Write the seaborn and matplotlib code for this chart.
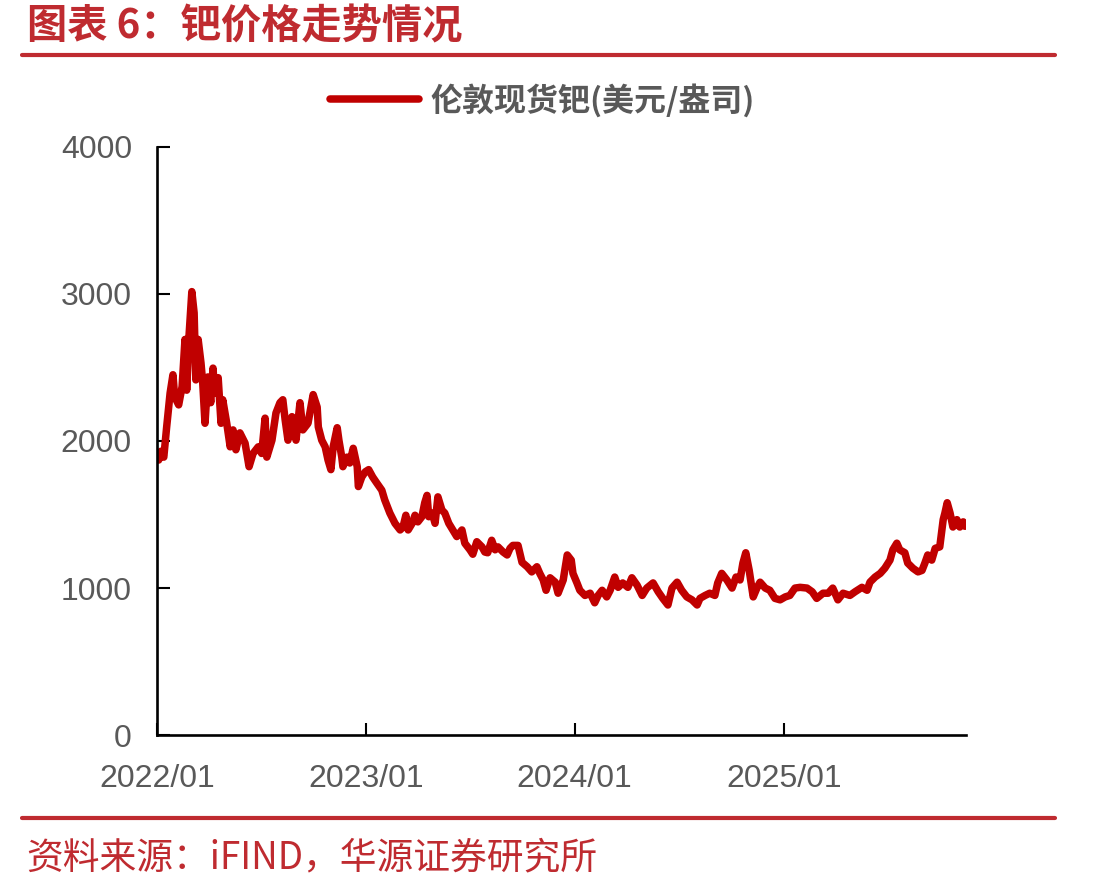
import pandas as pd
import seaborn as sns
import matplotlib.pyplot as plt
from matplotlib.lines import Line2D

# 伦敦现货钯 (美元/盎司)，读图估算
fechas = [
    '2022-01-04', '2022-01-08', '2022-01-13', '2022-01-18', '2022-01-24', '2022-01-29',
    '2022-02-01', '2022-02-08', '2022-02-14', '2022-02-19', '2022-02-22', '2022-02-26',
    '2022-03-03', '2022-03-07', '2022-03-10', '2022-03-14', '2022-03-19', '2022-03-22',
    '2022-03-26', '2022-03-31', '2022-04-05', '2022-04-09', '2022-04-12', '2022-04-18',
    '2022-04-23', '2022-04-26', '2022-05-03', '2022-05-09', '2022-05-14', '2022-05-19',
    '2022-05-26', '2022-06-04', '2022-06-11', '2022-06-18', '2022-06-27', '2022-07-03',
    '2022-07-09', '2022-07-12', '2022-07-21', '2022-07-28', '2022-08-04', '2022-08-09',
    '2022-08-13', '2022-08-18', '2022-08-25', '2022-09-01', '2022-09-08', '2022-09-13',
    '2022-09-22', '2022-10-01', '2022-10-08', '2022-10-10', '2022-10-16', '2022-10-22',
    '2022-10-27', '2022-11-01', '2022-11-05', '2022-11-12', '2022-11-15', '2022-11-20',
    '2022-11-22', '2022-11-29', '2022-12-04', '2022-12-10', '2022-12-17', '2022-12-19',
    '2022-12-25', '2022-12-31', '2023-01-06', '2023-01-13', '2023-01-20', '2023-01-29',
    '2023-02-03', '2023-02-12', '2023-02-21', '2023-03-02', '2023-03-07', '2023-03-12',
    '2023-03-16', '2023-03-23', '2023-03-28', '2023-04-02', '2023-04-09', '2023-04-14',
    '2023-04-18', '2023-04-21', '2023-04-27', '2023-05-02', '2023-05-07', '2023-05-14',
    '2023-05-19', '2023-05-26', '2023-06-02', '2023-06-09', '2023-06-18', '2023-06-23',
    '2023-07-02', '2023-07-07', '2023-07-14', '2023-07-23', '2023-07-28', '2023-08-02',
    '2023-08-09', '2023-08-15', '2023-08-20', '2023-08-29', '2023-09-05', '2023-09-10',
    '2023-09-15', '2023-09-24', '2023-10-01', '2023-10-10', '2023-10-18', '2023-10-27',
    '2023-11-01', '2023-11-07', '2023-11-12', '2023-11-19', '2023-11-28', '2023-12-03',
    '2023-12-12', '2023-12-19', '2023-12-26', '2023-12-29', '2024-01-05', '2024-01-10',
    '2024-01-19', '2024-01-28', '2024-02-05', '2024-02-11', '2024-02-18', '2024-02-26',
    '2024-03-03', '2024-03-11', '2024-03-17', '2024-03-25', '2024-04-03', '2024-04-10',
    '2024-04-19', '2024-04-28', '2024-05-06', '2024-05-17', '2024-05-26', '2024-06-03',
    '2024-06-12', '2024-06-19', '2024-06-28', '2024-07-06', '2024-07-15', '2024-07-24',
    '2024-08-02', '2024-08-07', '2024-08-16', '2024-08-24', '2024-09-02', '2024-09-07',
    '2024-09-14', '2024-09-23', '2024-10-02', '2024-10-09', '2024-10-16', '2024-10-21',
    '2024-10-26', '2024-11-01', '2024-11-08', '2024-11-15', '2024-11-20', '2024-11-29',
    '2024-12-07', '2024-12-16', '2024-12-25', '2025-01-03', '2025-01-11', '2025-01-20',
    '2025-01-29', '2025-02-10', '2025-02-19', '2025-02-27', '2025-03-10', '2025-03-19',
    '2025-03-27', '2025-04-05', '2025-04-14', '2025-04-26', '2025-05-05', '2025-05-17',
    '2025-05-26', '2025-05-31', '2025-06-09', '2025-06-18', '2025-06-26', '2025-07-05',
    '2025-07-10', '2025-07-17', '2025-07-22', '2025-07-31', '2025-08-05', '2025-08-14',
    '2025-08-23', '2025-08-30', '2025-09-04', '2025-09-09', '2025-09-16', '2025-09-22',
    '2025-09-30', '2025-10-06', '2025-10-09', '2025-10-13', '2025-10-18', '2025-10-23',
    '2025-10-30', '2025-11-04', '2025-11-10', '2025-11-13',
]
precios = [
    1870, 1930, 1890, 2095, 2325, 2450,
    2300, 2245, 2370, 2690, 2345, 2710,
    3015, 2870, 2415, 2690, 2530, 2395,
    2120, 2435, 2260, 2495, 2325, 2430,
    2120, 2280, 2120, 1960, 2075, 1940,
    2055, 1985, 1825, 1915, 1960, 1915,
    2155, 1890, 2005, 2190, 2260, 2280,
    2145, 2005, 2165, 2005, 2260, 2075,
    2120, 2315, 2230, 2095, 2005, 1960,
    1870, 1805, 1960, 2090, 2005, 1890,
    1825, 1890, 1850, 1950, 1825, 1690,
    1755, 1790, 1805, 1755, 1715, 1665,
    1600, 1510, 1440, 1395, 1415, 1495,
    1395, 1440, 1495, 1450, 1485, 1580,
    1630, 1485, 1510, 1440, 1620, 1530,
    1510, 1440, 1395, 1350, 1395, 1305,
    1260, 1230, 1315, 1280, 1245, 1240,
    1325, 1260, 1280, 1245, 1225, 1270,
    1290, 1290, 1175, 1145, 1110, 1145,
    1100, 1055, 985, 1070, 1040, 965,
    1055, 1225, 1190, 1100, 1035, 985,
    950, 965, 900, 950, 985, 940,
    985, 1075, 1005, 1035, 1005, 1070,
    1020, 950, 1000, 1035, 975, 930,
    885, 1000, 1040, 985, 940, 920,
    885, 930, 950, 965, 950, 1035,
    1100, 1055, 1000, 1075, 1055, 1170,
    1240, 1120, 940, 1005, 1040, 1000,
    985, 930, 920, 940, 950, 1000,
    1005, 1000, 975, 930, 965, 965,
    1000, 920, 965, 950, 975, 1005,
    985, 1040, 1075, 1100, 1135, 1190,
    1260, 1305, 1260, 1240, 1170, 1135,
    1110, 1120, 1170, 1225, 1190, 1270,
    1280, 1465, 1510, 1580, 1510, 1415,
    1465, 1415, 1450, 1420,
]
serie = '伦敦现货钯(美元/盎司)'
ticks_x = ['2022-01-01', '2023-01-01', '2024-01-01', '2025-01-01']
etiquetas_x = ['2022/01', '2023/01', '2024/01', '2025/01']
ticks_y = [0, 1000, 2000, 3000, 4000]

ROJO = '#C00000'
ROJO_TXT = '#BF2B30'
GRIS = '#595959'
CJK = ['Noto Sans CJK SC', 'DejaVu Sans']

sns.set_style('ticks')
plt.rcParams['font.family'] = ['Liberation Sans', 'Noto Sans CJK SC', 'DejaVu Sans']

df = pd.DataFrame({'fecha': pd.to_datetime(fechas), 'precio': precios})

fig = plt.figure(figsize=(11.13, 8.89), dpi=100)
ax = fig.add_axes([0.141, 0.173, 0.727, 0.662])

sns.lineplot(data=df, x='fecha', y='precio', ax=ax, color=ROJO, lw=5.4,
             label=serie, legend=False)

ax.set_xlim(pd.Timestamp('2022-01-01'), pd.Timestamp('2025-11-15'))
ax.set_ylim(0, 4000)
ax.set_xticks(pd.to_datetime(ticks_x))
ax.set_xticklabels(etiquetas_x)
ax.set_yticks(ticks_y)
ax.set_xlabel('')
ax.set_ylabel('')

for s in ['top', 'right']:
    ax.spines[s].set_visible(False)
for s in ['left', 'bottom']:
    ax.spines[s].set_linewidth(1.9)
    ax.spines[s].set_color('black')

ax.tick_params(axis='both', direction='in', length=9, width=1.5, color='black',
               labelcolor=GRIS, labelsize=23)
ax.tick_params(axis='y', pad=18)
ax.tick_params(axis='x', pad=21)

# leyenda arriba
h = [Line2D([0], [0], color=ROJO, lw=5.4)]
fig.legend(h, [serie], loc='center', bbox_to_anchor=(0.487, 0.887), frameon=False,
           handlelength=2.8, handletextpad=0.35,
           prop={'family': CJK, 'weight': 'bold', 'size': 23}, labelcolor=GRIS)

# título, líneas y fuente
fig.text(0.024, 0.970, '图表 6：钯价格走势情况', color=ROJO_TXT, fontsize=29,
         fontweight='bold', family=CJK, ha='left', va='center')
fig.add_artist(Line2D([0.02, 0.948], [0.938, 0.938], transform=fig.transFigure,
                      color=ROJO_TXT, lw=3))
fig.add_artist(Line2D([0.02, 0.948], [0.080, 0.080], transform=fig.transFigure,
                      color=ROJO_TXT, lw=3))
fig.text(0.024, 0.035, '资料来源：iFIND，华源证券研究所', color=ROJO_TXT, fontsize=26.5,
         family=CJK, ha='left', va='center')

plt.savefig('out.png', dpi=100)
plt.close()
